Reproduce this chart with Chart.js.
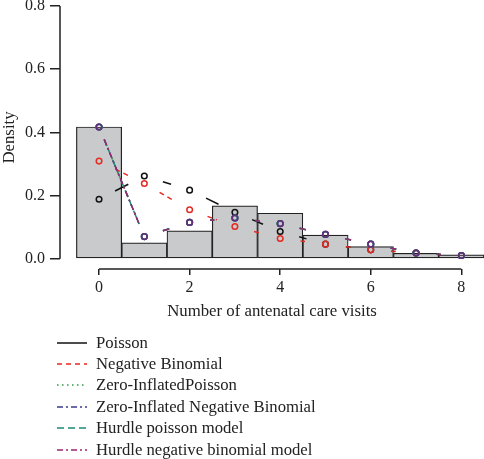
<!DOCTYPE html>
<html>
<head>
<meta charset="utf-8">
<script src="https://cdn.jsdelivr.net/npm/chart.js@4.4.1/dist/chart.umd.min.js"></script>
<style>
    html, body { margin: 0; padding: 0; background: #fff; }
    #wrap { position: relative; width: 484px; height: 459px; overflow: hidden; }
    #grafico { position: absolute; left: 0; top: 0; }
    #leyenda { position: absolute; left: 0; top: 0; font-family: 'Liberation Serif', serif; font-size: 16.7px; color: #222; }
    .fila { position: absolute; left: 57px; height: 20px; display: flex; align-items: center; white-space: nowrap; }
    .fila svg { width: 30px; height: 6px; margin-right: 9px; }
</style>
</head>
<body>
<div id="wrap">
    <canvas id="grafico" width="484" height="459"></canvas>
    <div id="leyenda"></div>
</div>
<script>
// number of visits and observed density (histogram)
const visitas = [0, 1, 2, 3, 4, 5, 6, 7, 8];
const observado = [0.417, 0.050, 0.088, 0.167, 0.144, 0.075, 0.038, 0.017, 0.012];

// fitted probabilities
const poisson = [0.188, 0.262, 0.217, 0.147, 0.086, 0.046, 0.028, 0.018, 0.010];
const negBinomial = [0.309, 0.238, 0.155, 0.102, 0.064, 0.046, 0.028, 0.018, 0.010];
const zip = [0.417, 0.070, 0.115, 0.129, 0.111, 0.077, 0.046, 0.018, 0.010];
const zinb = [0.417, 0.070, 0.115, 0.129, 0.111, 0.077, 0.046, 0.018, 0.010];
const hurdlePoisson = [0.417, 0.070, 0.115, 0.129, 0.111, 0.077, 0.046, 0.018, 0.010];
const hurdleNB = [0.417, 0.070, 0.115, 0.129, 0.111, 0.077, 0.046, 0.018, 0.010];

const yTicks = [0, 0.2, 0.4, 0.6, 0.8];
const xTicks = [0, 2, 4, 6, 8];

const modelos = [
    { label: 'Poisson', data: poisson, color: '#111111', dash: [] },
    { label: 'Negative Binomial', data: negBinomial, color: '#e52a22', dash: [5, 4] },
    { label: 'Zero-InflatedPoisson', data: zip, color: '#2f9a48', dash: [1.5, 3.5] },
    { label: 'Zero-Inflated Negative Binomial', data: zinb, color: '#3d3b8e', dash: [6, 3, 2, 3] },
    { label: 'Hurdle poisson model', data: hurdlePoisson, color: '#1b8a78', dash: [7, 4] },
    { label: 'Hurdle negative binomial model', data: hurdleNB, color: '#9a2770', dash: [6, 3, 2, 3], point: '#6a2b7c' }
];

const FUENTE = "'Liberation Serif', serif";
const GAP = 13;

// lines with gaps around the points, like R type = "b"
const lineasConHueco = {
    id: 'lineasConHueco',
    afterDatasetDraw(chart, args) {
        const ds = chart.data.datasets[args.index];
        if (!ds.gapLine) return;
        const pts = args.meta.data;
        const ctx = chart.ctx;
        ctx.save();
        ctx.strokeStyle = ds.borderColor;
        ctx.lineWidth = 1.5;
        ctx.setLineDash(ds.dash);
        for (let i = 0; i < pts.length - 1; i++) {
            const a = pts[i], b = pts[i + 1];
            const dx = b.x - a.x, dy = b.y - a.y;
            const f = GAP / Math.hypot(dx / 1.6, dy);
            if (f >= 0.5) continue;
            ctx.beginPath();
            ctx.moveTo(a.x + dx * f, a.y + dy * f);
            ctx.lineTo(b.x - dx * f, b.y - dy * f);
            ctx.stroke();
        }
        ctx.restore();
    }
};

// R style axes: lines only from first to last tick
const ejes = {
    id: 'ejes',
    afterDraw(chart) {
        const { ctx, chartArea, scales: { x, y } } = chart;
        ctx.save();
        ctx.strokeStyle = '#222';
        ctx.lineWidth = 1.5;
        ctx.beginPath();
        ctx.moveTo(chartArea.left, y.getPixelForValue(yTicks[0]));
        ctx.lineTo(chartArea.left, y.getPixelForValue(yTicks[yTicks.length - 1]));
        ctx.moveTo(x.getPixelForValue(xTicks[0]), chartArea.bottom);
        ctx.lineTo(x.getPixelForValue(xTicks[xTicks.length - 1]), chartArea.bottom);
        ctx.stroke();
        ctx.restore();
    }
};

window.onload = function () {
    const ctx = document.getElementById('grafico').getContext('2d');

    const datasets = [{
        type: 'bar',
        label: 'Observed',
        data: visitas.map((v, i) => ({ x: v, y: observado[i] })),
        backgroundColor: '#c9cacc',
        borderColor: '#222',
        borderWidth: 1.2,
        borderSkipped: false,
        barPercentage: 1,
        categoryPercentage: 1,
        order: 10
    }];

    modelos.forEach((m, i) => {
        datasets.push({
            type: 'line',
            label: m.label,
            data: visitas.map((v, j) => ({ x: v, y: m.data[j] })),
            borderColor: m.color,
            pointBorderColor: m.point || m.color,
            backgroundColor: 'rgba(0,0,0,0)',
            showLine: false,
            pointRadius: 2.8,
            pointBorderWidth: 1.5,
            pointStyle: 'circle',
            gapLine: true,
            dash: m.dash,
            order: 6 - i
        });
    });

    new Chart(ctx, {
        type: 'bar',
        data: { datasets: datasets },
        options: {
            responsive: false,
            animation: false,
            layout: { autoPadding: false, padding: { left: 0, right: 0, top: 6, bottom: 130 } },
            plugins: {
                legend: { display: false },
                tooltip: { enabled: false }
            },
            scales: {
                x: {
                    type: 'linear',
                    offset: false,
                    min: -0.862,
                    max: 8.5,
                    afterBuildTicks: s => { s.ticks = xTicks.map(v => ({ value: v })); },
                    afterFit: s => { s.height = 60; s.paddingLeft = 0; s.paddingRight = 0; },
                    grid: { display: true, drawOnChartArea: false, drawTicks: true, tickLength: 6, color: '#222', lineWidth: 1.5, offset: false },
                    border: { display: false },
                    ticks: { padding: 3, color: '#222', font: { family: FUENTE, size: 16 }, maxRotation: 0, autoSkip: false },
                    title: { display: true, text: 'Number of antenatal care visits', color: '#222', font: { family: FUENTE, size: 16.8 }, padding: { top: 0, bottom: 7 } }
                },
                y: {
                    min: -0.0326,
                    max: 0.8,
                    afterBuildTicks: s => { s.ticks = yTicks.map(v => ({ value: v })); },
                    afterFit: s => { s.width = 60; s.paddingTop = 0; s.paddingBottom = 0; },
                    grid: { display: true, drawOnChartArea: false, drawTicks: true, tickLength: 10, color: '#222', lineWidth: 1.5 },
                    border: { display: false },
                    ticks: { padding: 5, color: '#222', font: { family: FUENTE, size: 16 }, callback: v => v.toFixed(1) },
                    title: { display: true, text: 'Density', color: '#222', font: { family: FUENTE, size: 16.8 }, padding: { top: 0, bottom: 0 } }
                }
            }
        },
        plugins: [lineasConHueco, ejes]
    });

    crearLeyenda();
};

function crearLeyenda() {
    const leyenda = document.getElementById('leyenda');
    const ns = 'http://www.w3.org/2000/svg';
    modelos.forEach((m, i) => {
        const fila = document.createElement('div');
        fila.className = 'fila';
        fila.style.top = (332.5 + i * 21.4) + 'px';

        const svg = document.createElementNS(ns, 'svg');
        const linea = document.createElementNS(ns, 'line');
        linea.setAttribute('x1', 0);
        linea.setAttribute('x2', 30);
        linea.setAttribute('y1', 3);
        linea.setAttribute('y2', 3);
        linea.setAttribute('stroke', m.color);
        linea.setAttribute('stroke-width', 1.5);
        if (m.dash.length) linea.setAttribute('stroke-dasharray', m.dash.join(' '));
        svg.appendChild(linea);
        fila.appendChild(svg);

        const span = document.createElement('span');
        span.textContent = m.label;
        fila.appendChild(span);
        leyenda.appendChild(fila);
    });
}
</script>
</body>
</html>
